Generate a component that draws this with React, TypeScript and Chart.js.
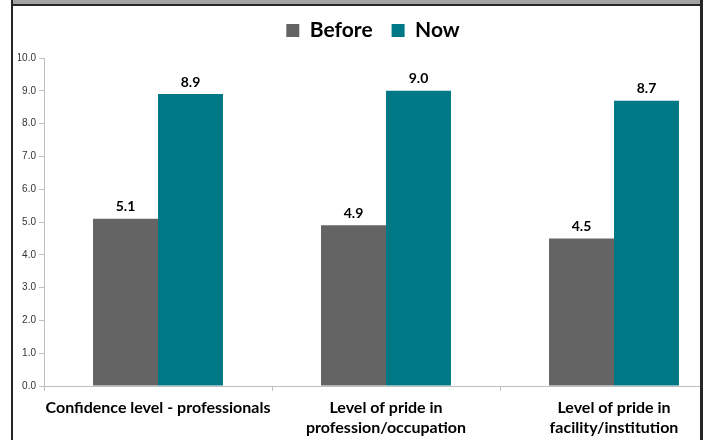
import React, { useEffect, useRef } from "react";
import { Chart, registerables } from "chart.js";

Chart.register(...registerables);

const categories: string[][] = [
  ["Confidence level - professionals"],
  ["Level of pride in", "profession/occupation"],
  ["Level of pride in", "facility/institution"],
];
const beforeValues = [5.1, 4.9, 4.5];
const nowValues = [8.9, 9.0, 8.7];
const seriesNames = ["Before", "Now"];
const yMin = 0;
const yMax = 10;
const yStep = 1;

const BOLD_FONT = "Lato, 'Open Sans', sans-serif";

const legendGapPlugin = {
  id: "legendGap",
  beforeLayout(chart: any) {
    const lg = chart.legend;
    if (lg && !lg.__gapPatched) {
      const orig = lg.fit.bind(lg);
      lg.fit = function () {
        orig();
        this.height += 7;
      };
      lg.__gapPatched = true;
    }
  },
};

const valueLabelPlugin = {
  id: "valueLabels",
  afterDatasetsDraw(chart: any) {
    const ctx = chart.ctx;
    ctx.save();
    ctx.font = `bold 14px ${BOLD_FONT}`;
    ctx.fillStyle = "#000000";
    ctx.textAlign = "center";
    ctx.textBaseline = "bottom";
    chart.data.datasets.forEach((ds: any, i: number) => {
      const meta = chart.getDatasetMeta(i);
      meta.data.forEach((bar: any, j: number) => {
        const v = ds.data[j] as number;
        ctx.fillText(v.toFixed(1), bar.x, bar.y - 5);
      });
    });
    ctx.restore();
  },
};

const framePlugin = {
  id: "frame",
  afterDraw(chart: any) {
    const ctx = chart.ctx;
    const w = chart.width;
    const h = chart.height;
    ctx.save();
    ctx.fillStyle = "#ffffff";
    ctx.fillRect(703, 0, w - 703, h);
    ctx.fillRect(0, 0, 11, h);
    ctx.fillStyle = "#a3a3a3";
    ctx.fillRect(13, 0, 687, 4);
    ctx.fillStyle = "#262626";
    ctx.fillRect(13, 4, 687, 2);
    ctx.fillRect(11, 0, 2, h);
    ctx.fillRect(700, 0, 3, h);
    ctx.restore();
  },
};

export default function App() {
  const canvasRef = useRef<HTMLCanvasElement | null>(null);

  useEffect(() => {
    document.body.style.margin = "0";
    const canvas = canvasRef.current;
    if (!canvas) return;
    const chart = new Chart(canvas, {
      type: "bar",
      data: {
        labels: categories,
        datasets: [
          {
            label: seriesNames[0],
            data: beforeValues,
            backgroundColor: "#646464",
            categoryPercentage: 0.57,
            barPercentage: 1.0,
          },
          {
            label: seriesNames[1],
            data: nowValues,
            backgroundColor: "#007886",
            categoryPercentage: 0.57,
            barPercentage: 1.0,
          },
        ],
      },
      options: {
        animation: false,
        responsive: false,
        maintainAspectRatio: false,
        layout: { padding: { top: 1, left: 18, right: 0, bottom: 0 } },
        plugins: {
          legend: {
            display: true,
            position: "top",
            labels: {
              boxWidth: 13,
              boxHeight: 13,
              padding: 19,
              color: "#000000",
              font: { family: BOLD_FONT, size: 21, weight: "bold" },
            },
          },
          tooltip: { enabled: false },
        },
        scales: {
          x: {
            offset: true,
            grid: {
              offset: true,
              drawOnChartArea: false,
              drawTicks: true,
              tickLength: 5,
              color: "#bfbfbf",
            },
            border: { color: "#bfbfbf", width: 1 },
            ticks: {
              color: "#000000",
              padding: 6,
              maxRotation: 0,
              autoSkip: false,
              font: { family: BOLD_FONT, size: 16, weight: "bold", lineHeight: 1.3 },
            },
            afterFit(scale: any) {
              scale.height = 54;
            },
          },
          y: {
            min: yMin,
            max: yMax,
            grid: {
              drawOnChartArea: false,
              drawTicks: true,
              tickLength: 5,
              color: "#bfbfbf",
            },
            border: { color: "#bfbfbf", width: 1 },
            ticks: {
              stepSize: yStep,
              color: "#333333",
              padding: 3,
              font: { family: "'Liberation Sans', Arial, sans-serif", size: 10 },
              callback: (v: any) => Number(v).toFixed(1),
            },
            afterFit(scale: any) {
              scale.width = 26;
            },
          },
        },
      },
      plugins: [legendGapPlugin, valueLabelPlugin, framePlugin],
    });
    return () => chart.destroy();
  }, []);

  return (
    <div style={{ width: 705, height: 440, overflow: "hidden", position: "relative", background: "#ffffff" }}>
      <canvas ref={canvasRef} width={728} height={440} style={{ display: "block" }} />
    </div>
  );
}
